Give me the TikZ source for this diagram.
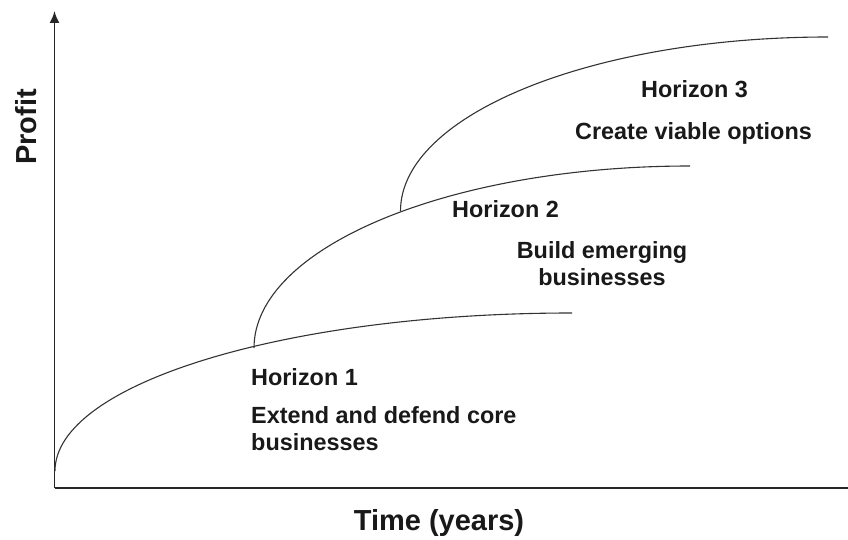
\documentclass[tikz,border=0pt]{standalone}
\usepackage{fontspec}
\setmainfont{Liberation Sans}
\usetikzlibrary{arrows.meta}
\begin{document}
\begin{tikzpicture}[x=1pt,y=-1pt,
  axisline/.style={line width=1.8pt,draw=black!85},
  curveline/.style={line width=1.1pt,draw=black!80},
  lbl/.style={inner sep=0pt,font=\fontsize{23.4}{27}\selectfont\bfseries,text=black!90},
  ttl/.style={inner sep=0pt,font=\fontsize{29}{34}\selectfont\bfseries,text=black!90}]
\useasboundingbox (0,0) rectangle (848,540);
% axes
\coordinate (O) at (54.5,488);
\coordinate (Ytop) at (54.5,11);
\coordinate (Xend) at (848,488);
\draw[axisline,-{Latex[length=12pt,width=10pt]}] (O) -- (Ytop);
\draw[axisline] (O) -- (Xend);
% curve endpoints
\coordinate (c1s) at (55,471);
\coordinate (c1e) at (572,313);
\coordinate (c2s) at (254,348);
\coordinate (c2e) at (690,166);
\coordinate (c3s) at (400.5,211);
\coordinate (c3e) at (828,37);
% quarter-ellipse curves
\draw[curveline] (c1s) .. controls (55,383.7) and (286.4,313) .. (c1e);
\draw[curveline] (c2s) .. controls (254,247.5) and (449.2,166) .. (c2e);
\draw[curveline] (c3s) .. controls (400.5,114.9) and (592,37) .. (c3e);
% labels
\node[lbl,anchor=base west] (h1) at (251,385) {Horizon 1};
\node[lbl,anchor=base west,align=left] (h1t) at (251,450) {Extend and defend core\\businesses};
\node[lbl,anchor=base west] (h2) at (452,218) {Horizon 2};
\node[lbl,anchor=base,align=center] (h2t) at (602,285) {Build emerging\\businesses};
\node[lbl,anchor=base west] (h3) at (641,98) {Horizon 3};
\node[lbl,anchor=base west] (h3t) at (575,140) {Create viable options};
\node[ttl,anchor=base] (xl) at (439,530) {Time (years)};
\node[ttl,rotate=90,anchor=base] (yl) at (36.5,127) {Profit};
\end{tikzpicture}
\end{document}
